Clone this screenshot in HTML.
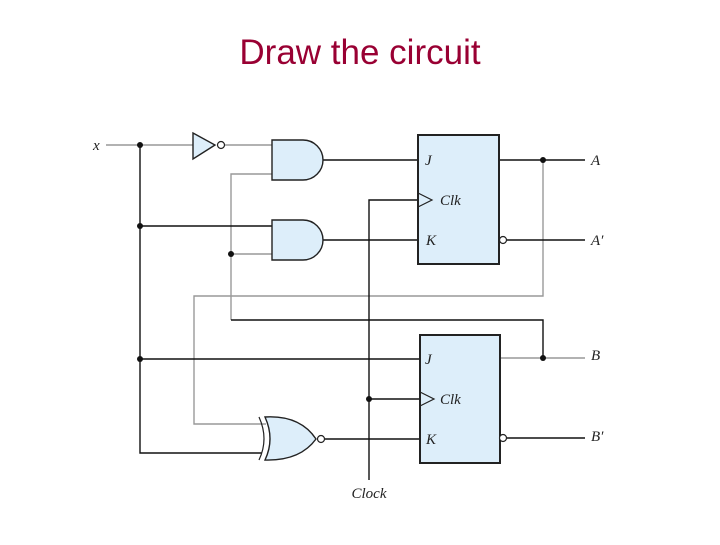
<!DOCTYPE html>
<html><head><style>
body{margin:0;background:#fff;width:720px;height:540px;overflow:hidden}
</style></head><body>
<svg width="720" height="540" xmlns="http://www.w3.org/2000/svg">
<text x="360" y="64" text-anchor="middle" font-family="Liberation Sans, sans-serif" font-size="35" fill="#990033">Draw the circuit</text>
<g fill="none" stroke-width="1.4">
<g stroke="#999">
<path d="M106 145H193M225 145H272"/>
<path d="M272 174H231V320"/>
<path d="M231 254H272"/>
<path d="M543 160V296H194V424H266"/>
<path d="M499 358H585"/>
</g>
<g stroke="#111">
<path d="M140 145V453H262"/>
<path d="M140 226H272M140 359H420"/>
<path d="M323 160H418M323 240H418"/>
<path d="M369 480V200H418M369 399H420"/>
<path d="M499 160H585M507 240H585"/>
<path d="M231 320H543V358"/>
<path d="M325 439H420M507 438H585"/>
</g>
</g>
<g fill="#ddeefa" stroke="#222" stroke-width="1.4">
<path d="M193 133L215 145L193 159Z"/>
<path d="M272 140H303A20 20 0 0 1 303 180H272Z"/>
<path d="M272 220H303A20 20 0 0 1 303 260H272Z"/>
<path d="M265 417Q300 415 316 439Q300 461 265 460Q275 439 265 417Z"/>
<rect x="418" y="135" width="81" height="129" stroke-width="2"/>
<rect x="420" y="335" width="80" height="128" stroke-width="2"/>
</g>
<g fill="none" stroke="#222" stroke-width="1.2">
<path d="M259 417Q269 439 259 460"/>
<path d="M418 193L432 200L418 207M420 392L434 399L420 406"/>
<circle cx="221" cy="145" r="3.5" fill="#fff"/>
<circle cx="321" cy="439" r="3.5" fill="#fff"/>
<circle cx="503" cy="240" r="3.5" fill="#fff"/>
<circle cx="503" cy="438" r="3.5" fill="#fff"/>
</g>
<g fill="#111">
<circle cx="140" cy="145" r="3"/><circle cx="140" cy="226" r="3"/><circle cx="140" cy="359" r="3"/>
<circle cx="231" cy="254" r="3"/><circle cx="543" cy="160" r="3"/><circle cx="543" cy="358" r="3"/>
<circle cx="369" cy="399" r="3"/>
</g>
<g font-family="Liberation Serif, serif" font-style="italic" font-size="15" fill="#222">
<text x="93" y="150">x</text>
<text x="425" y="165">J</text>
<text x="440" y="205">Clk</text>
<text x="426" y="245">K</text>
<text x="425" y="364">J</text>
<text x="440" y="404">Clk</text>
<text x="426" y="444">K</text>
<text x="591" y="165">A</text>
<text x="591" y="245">A′</text>
<text x="591" y="360">B</text>
<text x="591" y="441">B′</text>
<text x="369" y="498" text-anchor="middle">Clock</text>
</g>
</svg>
</body></html>
